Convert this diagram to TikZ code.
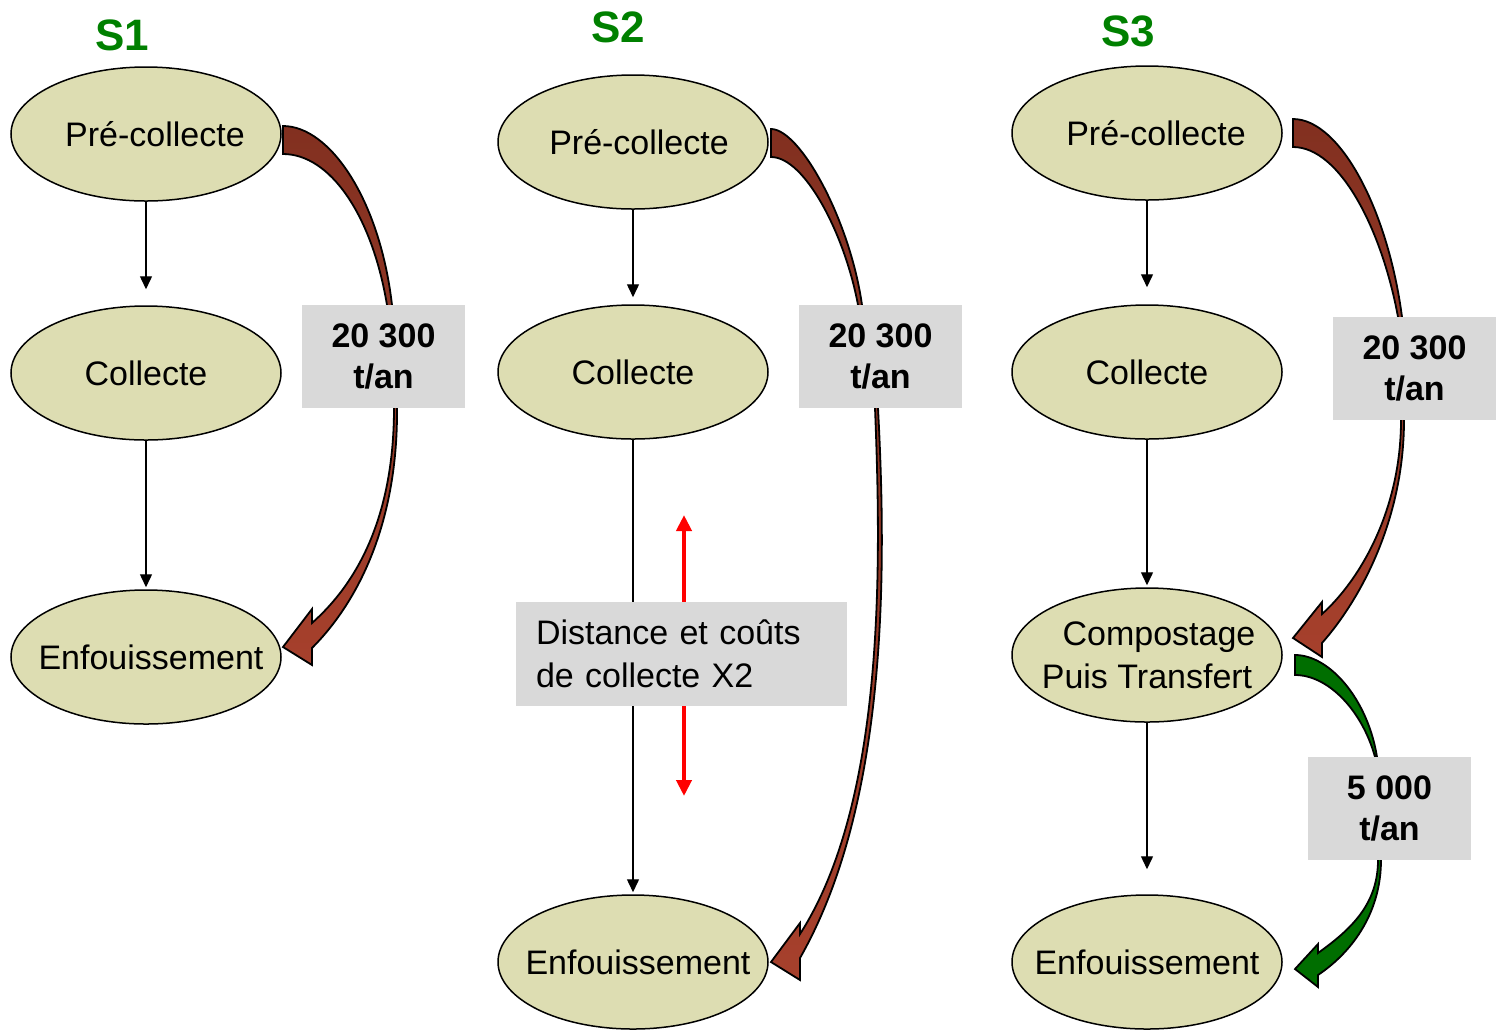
\documentclass[tikz,border=0pt]{standalone}
\usepackage{fontspec}
\setmainfont{Liberation Sans}
\usetikzlibrary{shapes.geometric,arrows.meta}

\definecolor{etapefill}{RGB}{221,221,178}
\definecolor{boxgray}{RGB}{217,217,217}
\definecolor{titregreen}{RGB}{0,128,0}
\definecolor{redtop}{RGB}{130,48,32}
\definecolor{redbot}{RGB}{166,64,44}
\definecolor{fluxgreen}{RGB}{0,110,0}

\tikzset{
  etape/.style={ellipse, draw, line width=0.75pt, fill=etapefill, minimum width=135pt,
    minimum height=67pt, inner xsep=-20pt, inner ysep=0pt, align=center,
    font=\fontsize{17}{21.5}\selectfont},
  flux/.style={fill=boxgray, minimum width=81.5pt, minimum height=51.5pt, inner sep=0pt,
    align=center, font=\bfseries\fontsize{17}{20.5}\selectfont},
  titre/.style={text=titregreen, font=\bfseries\fontsize{22}{26}\selectfont},
  fleche/.style={-{Triangle[length=6.5pt,width=6pt]}, line width=0.7pt},
  bigred/.style={draw=black, line width=0.9pt, top color=redtop, bottom color=redbot},
  biggreen/.style={draw=black, line width=0.9pt, fill=fluxgreen}
}

\begin{document}
\begin{tikzpicture}[x=0.5pt,y=-0.5pt]
\useasboundingbox (0,0) rectangle (1499,1030);

% S1
\node[titre] (s1) at (122,35) {S1};
\node[etape] (pc1) at (146,134) {\hspace*{9pt}Pré-collecte};
\node[etape] (col1) at (146,373) {Collecte};
\node[etape] (enf1) at (146,657) {\hspace*{5pt}Enfouissement};
\draw[fleche, shorten >=8pt] (pc1) -- (col1);
\draw[fleche, shorten >=1pt] (col1) -- (enf1);

% S2
\node[titre] (s2) at (618,27) {S2};
\node[etape] (pc2) at (633,142) {\hspace*{6pt}Pré-collecte};
\node[etape] (col2) at (633,372) {Collecte};
\node[etape] (enf2) at (633,962) {\hspace*{5pt}Enfouissement};
\draw[fleche, shorten >=3.5pt] (pc2) -- (col2);
\draw[fleche, shorten >=1pt] (col2) -- (enf2);
\coordinate (d1) at (684,515);
\coordinate (d2) at (684,796);
\draw[red, line width=2pt, {Triangle[length=8pt,width=7.5pt]}-{Triangle[length=8pt,width=7.5pt]}] (d1) -- (d2);

% S3
\node[titre] (s3) at (1128,31) {S3};
\node[etape] (pc3) at (1147,133) {\hspace*{9pt}Pré-collecte};
\node[etape] (col3) at (1147,372) {Collecte};
\node[etape] (comp3) at (1147,655) {\hspace*{12pt}Compostage\\Puis Transfert};
\node[etape] (enf3) at (1147,962) {Enfouissement};
\draw[fleche, shorten >=8.5pt] (pc3) -- (col3);
\draw[fleche, shorten >=1pt] (col3) -- (comp3);
\draw[fleche, shorten >=12.5pt] (comp3) -- (enf3);

% flux S1
\path[bigred] (283,126) .. controls (330,126) and (380,200) .. (392,305)
  .. controls (395,340) and (397,380) .. (397,408)
  .. controls (398,520) and (360,600) .. (312,648)
  -- (312,665) -- (283,647) -- (312,609) -- (312,623)
  .. controls (355,585) and (394,520) .. (394,408)
  .. controls (394,380) and (390,340) .. (387,305)
  .. controls (372,215) and (330,154) .. (283,154) -- cycle;

% flux S2
\path[bigred] (771,129) .. controls (800,129) and (850,220) .. (862,305)
  .. controls (868,340) and (876,380) .. (878,408)
  .. controls (886,560) and (890,800) .. (800,958)
  -- (800,980) -- (771,962) -- (800,923) -- (800,934)
  .. controls (886,800) and (881,560) .. (875,408)
  .. controls (873,380) and (864,340) .. (858,305)
  .. controls (845,235) and (805,157) .. (771,157) -- cycle;

% flux S3
\path[bigred] (1293,119) .. controls (1340,119) and (1388,210) .. (1402,317)
  .. controls (1404,360) and (1404,395) .. (1404,420)
  .. controls (1404,520) and (1360,600) .. (1322,643)
  -- (1322,657) -- (1293,638) -- (1322,602) -- (1322,614)
  .. controls (1360,580) and (1401,510) .. (1401,420)
  .. controls (1401,395) and (1400,360) .. (1398,317)
  .. controls (1382,230) and (1340,147) .. (1293,147) -- cycle;

% flux compost
\path[biggreen] (1295,655) .. controls (1330,655) and (1368,700) .. (1377,757)
  .. controls (1380,790) and (1381,830) .. (1381,860)
  .. controls (1381,910) and (1355,950) .. (1318,975)
  -- (1318,987) -- (1295,969) -- (1318,944) -- (1318,953)
  .. controls (1350,930) and (1378,905) .. (1378,860)
  .. controls (1378,830) and (1377,790) .. (1375,757)
  .. controls (1362,710) and (1328,675) .. (1295,675) -- cycle;

% tonnages
\node[flux] (t1) at (383.5,356.5) {20 300\\t/an};
\node[flux] (t2) at (880.5,356.5) {20 300\\t/an};
\node[flux] (t3) at (1414.5,368.5) {20 300\\t/an};
\node[flux] (t4) at (1389.5,808) {5 000\\t/an};
\node[fill=boxgray, text width=145.5pt, inner xsep=10pt, inner ysep=0pt, minimum height=52pt,
  align=left, font=\fontsize{17}{21.5}\selectfont] (dist) at (681.5,654)
  {Distance et coûts\\de collecte X2};
\end{tikzpicture}
\end{document}
